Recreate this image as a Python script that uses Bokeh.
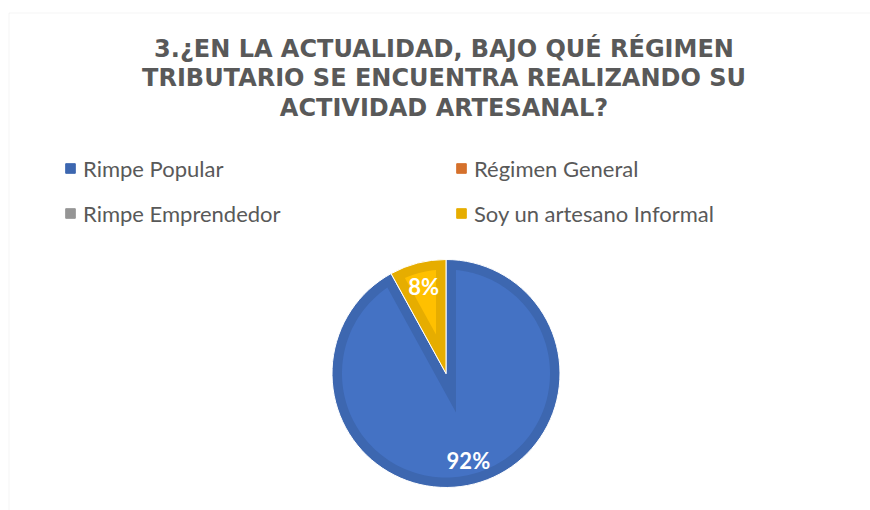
import numpy as np
from bokeh.plotting import figure
from bokeh.models import (Range1d, Legend, LegendItem, Label, BoxAnnotation,
                          ColumnDataSource)
from bokeh.core.properties import value
from bokeh.embed import file_html
from bokeh.resources import INLINE

# ---- data ----
title_lines = ["3.¿EN LA ACTUALIDAD, BAJO QUÉ RÉGIMEN",
               "TRIBUTARIO SE ENCUENTRA REALIZANDO SU",
               "ACTIVIDAD ARTESANAL?"]
categories = ["Rimpe Popular", "Régimen General", "Rimpe Emprendedor",
              "Soy un artesano Informal"]
percentages = [92, 0, 0, 8]
fill_colors = ["#4472C4", "#ED7D31", "#A5A5A5", "#FFC000"]
edge_colors = ["#3D67B0", "#D5712C", "#959595", "#E6AD00"]

# ---- layout (pixels) ----
W, H = 870, 510
CX, CY, R = 445.5, 137.0, 114.0
BAND = 10.0
LABEL_R = 90.0

p = figure(width=W, height=H, output_backend="svg", toolbar_location=None,
           x_range=Range1d(0, W), y_range=Range1d(0, H),
           x_axis_type=None, y_axis_type=None, min_border=0)
p.grid.visible = False
p.outline_line_color = None
p.background_fill_color = "white"
p.border_fill_color = "white"

# chart frame (light grey left/top border)
p.add_layout(BoxAnnotation(left=8.5, right=W + 20, bottom=-20, top=H - 12.5,
                           fill_alpha=0, line_color="#D9D9D9", line_width=1))

# ---- pie geometry from data ----
vals = np.array(percentages, dtype=float) / sum(percentages)
cum = np.concatenate([[0.0], np.cumsum(vals)])
starts = np.pi / 2 - cum[1:] * 2 * np.pi
ends = np.pi / 2 - cum[:-1] * 2 * np.pi
nz = [i for i, v in enumerate(percentages) if v > 0]

outer = ColumnDataSource(dict(
    x=[CX] * len(nz), y=[CY] * len(nz),
    start=[starts[i] for i in nz], end=[ends[i] for i in nz],
    color=[edge_colors[i] for i in nz]))
p.wedge(x="x", y="y", radius=R, start_angle="start", end_angle="end",
        fill_color="color", line_color="white", line_width=1, source=outer)

xs, ys, fc, lx, ly, lt = [], [], [], [], [], []
for i in nz:
    a0, a1 = starts[i], ends[i]
    th = a1 - a0
    mid = a0 + th / 2
    off = BAND / np.sin(th / 2)
    r2 = R - BAND
    d = np.arcsin(BAND / r2)
    arc = np.linspace(a0 + d, a1 - d, 200)
    xs.append([CX + off * np.cos(mid)] + list(CX + r2 * np.cos(arc)))
    ys.append([CY + off * np.sin(mid)] + list(CY + r2 * np.sin(arc)))
    fc.append(fill_colors[i])
    lx.append(CX + LABEL_R * np.cos(mid))
    ly.append(CY + LABEL_R * np.sin(mid))
    lt.append(f"{percentages[i]}%")

p.patches(xs="xs", ys="ys", fill_color="fc", line_color=None,
          source=ColumnDataSource(dict(xs=xs, ys=ys, fc=fc)))

p.text(x="x", y="y", text="t", source=ColumnDataSource(dict(x=lx, y=ly, t=lt)),
       text_color="white", text_font=value("Lato"), text_font_style="bold",
       text_font_size="22px", text_align="center", text_baseline="middle")

# ---- title ----
p.add_layout(Label(x=443.5, y=H - 78, text="\n".join(title_lines),
                   text_align="center", text_baseline="middle",
                   text_font="DejaVu Sans", text_font_style="bold",
                   text_font_size="24px", text_color="#595959",
                   text_line_height=1.07))

# ---- legend ----
lsrc = ColumnDataSource(dict(left=[np.nan] * 4, right=[np.nan] * 4,
                             top=[np.nan] * 4, bottom=[np.nan] * 4,
                             color=edge_colors))
lr = p.quad(left="left", right="right", top="top", bottom="bottom",
            fill_color="color", line_color="color", source=lsrc)

def make_legend(idx, loc):
    lg = Legend(items=[LegendItem(label=categories[i], renderers=[lr], index=i)
                       for i in idx],
                location=loc, orientation="vertical", padding=0, margin=0,
                glyph_width=12, glyph_height=12, label_standoff=7,
                spacing=18, label_height=27,
                label_text_font="Lato", label_text_font_size="22px",
                label_text_color="#595959", border_line_color=None,
                background_fill_alpha=0)
    p.add_layout(lg, "center")

make_legend([0, 2], (64, H - 226.5))
make_legend([1, 3], (455, H - 226.5))

open("out.html", "w").write(file_html(p, INLINE))
